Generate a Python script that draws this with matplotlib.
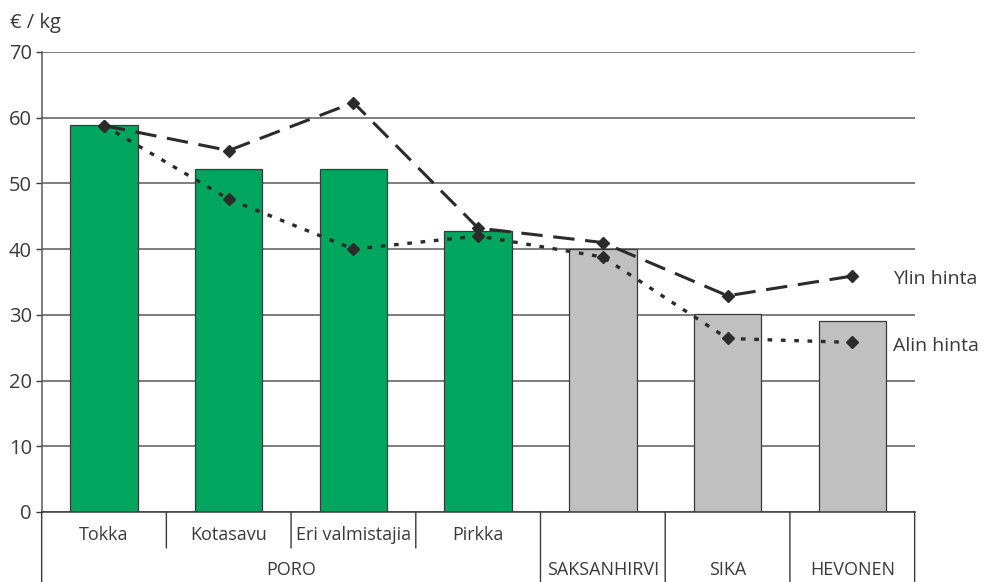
import numpy as np
import matplotlib.pyplot as plt
from matplotlib.transforms import blended_transform_factory, offset_copy

# data
categories = ['Tokka', 'Kotasavu', 'Eri valmistajia', 'Pirkka', 'SAKSANHIRVI', 'SIKA', 'HEVONEN']
sub_labels = ['Tokka', 'Kotasavu', 'Eri valmistajia', 'Pirkka']
group_labels = ['PORO', 'SAKSANHIRVI', 'SIKA', 'HEVONEN']
group_sizes = [4, 1, 1, 1]
bar_values = [58.9, 52.2, 52.2, 42.8, 40.0, 30.1, 29.1]
ylin_hinta = [58.8, 55.0, 62.3, 43.2, 41.0, 32.9, 35.9]
alin_hinta = [58.8, 47.6, 40.0, 42.0, 38.8, 26.4, 25.8]
yticks = [0, 10, 20, 30, 40, 50, 60, 70]

green = '#00a65d'
grey = '#c0c0c0'
dark = '#2b2b2b'
textc = '#3a3a3a'

plt.rcParams['font.family'] = ['Open Sans', 'DejaVu Sans']

fig = plt.figure(figsize=(9.92, 5.82), dpi=100)
ax = fig.add_axes([0.042, 0.1203, 0.880, 0.7904])

x = np.arange(len(categories))
colors = [green] * 4 + [grey] * 3
ax.bar(x, bar_values, width=0.54, color=colors, edgecolor='#3a3a3a', linewidth=0.9, zorder=2)

ax.plot(x, ylin_hinta, color=dark, lw=2.2, dashes=(7, 3.5), marker='D', ms=6.5, zorder=3)
ax.plot(x, alin_hinta, color=dark, lw=2.4, dashes=(1.4, 2.6), marker='D', ms=6.5, zorder=3)

ax.set_xlim(-0.5, len(categories) - 0.5)
ax.set_ylim(0, 70)
ax.set_yticks(yticks)
ax.yaxis.grid(True, color='#5a5a5a', lw=1.1, zorder=0)
ax.set_axisbelow(True)
ax.set_xticks([])
ax.tick_params(axis='y', labelsize=14.5, colors=textc, length=4, width=1, pad=3)
for s in ['top', 'right']:
    ax.spines[s].set_visible(False)
ax.spines['left'].set_color('#5a5a5a')
ax.spines['bottom'].set_color('#3a3a3a')
ax.spines['left'].set_linewidth(1.1)
ax.spines['bottom'].set_linewidth(1.1)

fig.text(0.010, 0.960, '€ / kg', fontsize=14.5, color=textc, ha='left', va='center')

# series labels at right
ax.text(len(categories) - 1 + 0.33, ylin_hinta[-1] - 0.4, 'Ylin hinta', fontsize=14,
        color=textc, va='center', ha='left', clip_on=False)
ax.text(len(categories) - 1 + 0.33, alin_hinta[-1] - 0.5, 'Alin hinta', fontsize=14,
        color=textc, va='center', ha='left', clip_on=False)

# two-level category axis
trans = blended_transform_factory(ax.transData, ax.transAxes)
short_down = offset_copy(trans, fig=fig, y=-36, units='dots')
long_down = offset_copy(trans, fig=fig, y=-72, units='dots')
sub_pos = offset_copy(trans, fig=fig, y=-23, units='dots')
grp_pos = offset_copy(trans, fig=fig, y=-58, units='dots')

for i, lab in enumerate(sub_labels):
    ax.text(i, 0, lab, transform=sub_pos, ha='center', va='center', fontsize=13, color=textc)

start = 0
for lab, n in zip(group_labels, group_sizes):
    ax.text(start + (n - 1) / 2, 0, lab, transform=grp_pos, ha='center', va='center',
            fontsize=13, color=textc)
    start += n

bounds = np.cumsum([0] + group_sizes) - 0.5
for b in bounds:
    ax.annotate('', xy=(b, 0), xycoords=long_down, xytext=(b, 0), textcoords=trans,
                arrowprops=dict(arrowstyle='-', color='#3a3a3a', lw=1, shrinkA=0, shrinkB=0))
for b in np.arange(0.5, group_sizes[0] - 0.5):
    ax.annotate('', xy=(b, 0), xycoords=short_down, xytext=(b, 0), textcoords=trans,
                arrowprops=dict(arrowstyle='-', color='#3a3a3a', lw=1, shrinkA=0, shrinkB=0))

fig.savefig('out.png', dpi=100)
